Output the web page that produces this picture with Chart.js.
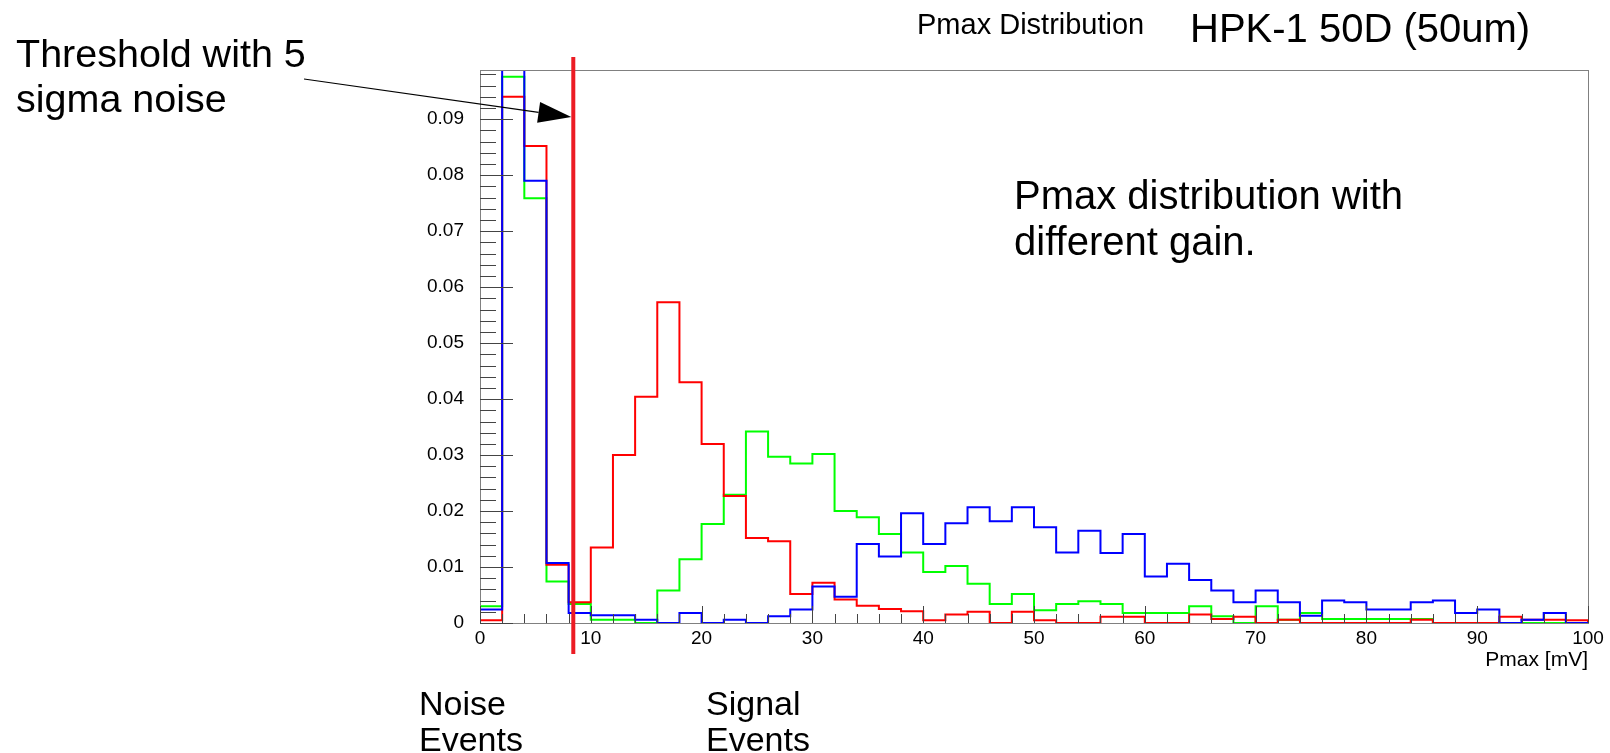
<!DOCTYPE html>
<html>
<head>
<meta charset="utf-8">
<title>Pmax Distribution</title>
<script src="https://cdn.jsdelivr.net/npm/chart.js@4.4.1/dist/chart.umd.min.js"></script>
<style>
  html, body { margin: 0; padding: 0; background: #fff; }
  #wrap { position: relative; width: 1610px; height: 753px; overflow: hidden; }
  canvas { position: absolute; left: 0; top: 0; }
  .note { position: absolute; font-family: "Liberation Sans", Arial, sans-serif; color: #000; white-space: nowrap; }
</style>
</head>
<body>
<div id="wrap">
  <canvas id="chart" width="1610" height="753"></canvas>
  <div class="note" style="left:917px; top:10px; font-size:29px; line-height:29px;">Pmax Distribution</div>
  <div class="note" style="left:1190px; top:8px; font-size:40px; line-height:40px;">HPK-1 50D (50um)</div>
  <div class="note" style="left:16px; top:31px; font-size:39.5px; line-height:45px;">Threshold with 5<br>sigma noise</div>
  <div class="note" style="left:1014px; top:172px; font-size:40px; line-height:46px;">Pmax distribution with<br>different gain.</div>
  <div class="note" style="left:419px; top:685px; font-size:34px; line-height:36px;">Noise<br>Events</div>
  <div class="note" style="left:706px; top:685px; font-size:34px; line-height:36px;">Signal<br>Events</div>
</div>
<script>
// 2 mV bins, low edges
const binLow = [0, 2, 4, 6, 8, 10, 12, 14, 16, 18, 20, 22, 24, 26, 28, 30, 32, 34, 36, 38,
                40, 42, 44, 46, 48, 50, 52, 54, 56, 58, 60, 62, 64, 66, 68, 70, 72, 74, 76, 78,
                80, 82, 84, 86, 88, 90, 92, 94, 96, 98];
const binHigh = 100;

const blueVals = [0.0024, 0.21, 0.0790, 0.0107, 0.0018, 0.0014, 0.0014, 0.0006, 0, 0.0018,
                  0, 0.0006, 0, 0.0012, 0.0024, 0.0065, 0.0047, 0.0141, 0.0119, 0.0196,
                  0.0141, 0.0178, 0.0207, 0.0182, 0.0207, 0.0171, 0.0126, 0.0165, 0.0125, 0.0159,
                  0.0083, 0.0106, 0.0077, 0.0058, 0.0037, 0.0058, 0.0037, 0.0013, 0.0040, 0.0037,
                  0.0024, 0.0024, 0.0037, 0.0040, 0.0018, 0.0024, 0, 0.0006, 0.0018, 0];
const redVals = [0.0005, 0.0940, 0.0852, 0.0104, 0.0037, 0.0135, 0.0300, 0.0404, 0.0573, 0.0430,
                 0.0320, 0.0227, 0.0152, 0.0146, 0.0052, 0.0072, 0.0042, 0.0031, 0.0025, 0.0021,
                 0.0005, 0.0015, 0.0020, 0, 0.0020, 0.0005, 0, 0, 0.0011, 0.0011,
                 0, 0, 0.0015, 0.0007, 0.0011, 0, 0.0006, 0, 0, 0,
                 0, 0, 0.0006, 0, 0, 0, 0.0011, 0.0006, 0.0006, 0.0005];
const greenVals = [0.0030, 0.0976, 0.0759, 0.0074, 0.0034, 0.0006, 0.0006, 0, 0.0058, 0.0114,
                   0.0177, 0.0229, 0.0342, 0.0297, 0.0285, 0.0302, 0.0200, 0.0189, 0.0159, 0.0126,
                   0.0091, 0.0102, 0.0070, 0.0034, 0.0052, 0.0023, 0.0034, 0.0039, 0.0034, 0.0018,
                   0.0018, 0.0018, 0.0030, 0.0012, 0, 0.0030, 0.0006, 0.0018, 0.0007, 0.0007,
                   0.0007, 0.0007, 0.0007, 0, 0, 0, 0, 0, 0, 0];

const threshold = 8.42;   // mV, 5 sigma noise cut
const arrowTipY = 0.0904;
const yMax = 0.0988;

// histogram outline: up from 0 at the first edge, down to 0 at the last one
function histo(vals) {
  const pts = [{x: binLow[0], y: 0}];
  binLow.forEach((x, i) => pts.push({x: x, y: vals[i]}));
  pts.push({x: binHigh, y: 0});
  return pts;
}

function histSet(vals, color) {
  return {
    data: histo(vals),
    borderColor: color,
    borderWidth: 2,
    pointRadius: 0,
    fill: false,
    stepped: 'before',
    tension: 0
  };
}

// ROOT style frame with inward ticks, cut line and arrow
const frameAndTicks = {
  id: 'frameAndTicks',
  afterDatasetsDraw(chart) {
    const {ctx, chartArea: a, scales: {x, y}} = chart;
    ctx.save();

    ctx.strokeStyle = '#808080';
    ctx.lineWidth = 1;
    ctx.strokeRect(a.left + 0.5, a.top + 0.5, a.right - a.left, a.bottom - a.top);

    ctx.strokeStyle = '#444';
    ctx.beginPath();
    for (let k = 0; k <= 50; k++) {
      const px = Math.round(x.getPixelForValue(k * 2)) + 0.5;
      const len = k % 5 === 0 ? 17 : 9;
      ctx.moveTo(px, a.bottom);
      ctx.lineTo(px, a.bottom - len);
    }
    for (let k = 0; k * 0.002 <= yMax; k++) {
      const py = Math.round(y.getPixelForValue(k * 0.002)) + 0.5;
      const len = k % 5 === 0 ? 33 : 16;
      ctx.moveTo(a.left, py);
      ctx.lineTo(a.left + len, py);
    }
    ctx.stroke();

    // threshold
    const tx = x.getPixelForValue(threshold);
    ctx.strokeStyle = '#ec1c24';
    ctx.lineWidth = 4;
    ctx.beginPath();
    ctx.moveTo(tx, a.top - 13);
    ctx.lineTo(tx, a.bottom + 31);
    ctx.stroke();

    // arrow from the note to the cut line
    const tipX = tx - 2, tipY = y.getPixelForValue(arrowTipY);
    const tailX = 304, tailY = 79;
    const ang = Math.atan2(tipY - tailY, tipX - tailX);
    const hl = 33, hw = 10.5;
    const bx = tipX - hl * Math.cos(ang), by = tipY - hl * Math.sin(ang);
    ctx.strokeStyle = '#000';
    ctx.lineWidth = 1.2;
    ctx.beginPath();
    ctx.moveTo(tailX, tailY);
    ctx.lineTo(bx, by);
    ctx.stroke();
    ctx.fillStyle = '#000';
    ctx.beginPath();
    ctx.moveTo(tipX, tipY);
    ctx.lineTo(bx + hw * Math.sin(ang), by - hw * Math.cos(ang));
    ctx.lineTo(bx - hw * Math.sin(ang), by + hw * Math.cos(ang));
    ctx.closePath();
    ctx.fill();

    ctx.restore();
  }
};

Chart.defaults.font.family = '"Liberation Sans", Arial, sans-serif';
Chart.defaults.color = '#000';

new Chart(document.getElementById('chart'), {
  type: 'line',
  data: {
    datasets: [
      histSet(blueVals, '#0000ff'),
      histSet(redVals, '#ff0000'),
      histSet(greenVals, '#00ff00')
    ]
  },
  options: {
    responsive: false,
    devicePixelRatio: 1,
    animation: false,
    events: [],
    layout: { padding: { left: 0, top: 70, right: 22, bottom: 80 } },
    plugins: { legend: { display: false }, tooltip: { enabled: false } },
    scales: {
      x: {
        type: 'linear',
        min: 0,
        max: 100,
        grid: { display: false, drawTicks: false },
        border: { display: false },
        ticks: { stepSize: 10, padding: 4, font: { size: 19 }, maxRotation: 0 },
        title: { display: true, text: 'Pmax [mV]', align: 'end', font: { size: 21 }, padding: 0 },
        afterFit(s) { s.height = 50; }
      },
      y: {
        type: 'linear',
        min: 0,
        max: yMax,
        grid: { display: false, drawTicks: false },
        border: { display: false },
        ticks: {
          stepSize: 0.01,
          includeBounds: false,
          padding: 16,
          font: { size: 19 },
          callback: v => v === 0 ? '0' : String(+v.toFixed(2))
        },
        afterFit(s) { s.width = 480; }
      }
    }
  },
  plugins: [frameAndTicks]
});
</script>
</body>
</html>
